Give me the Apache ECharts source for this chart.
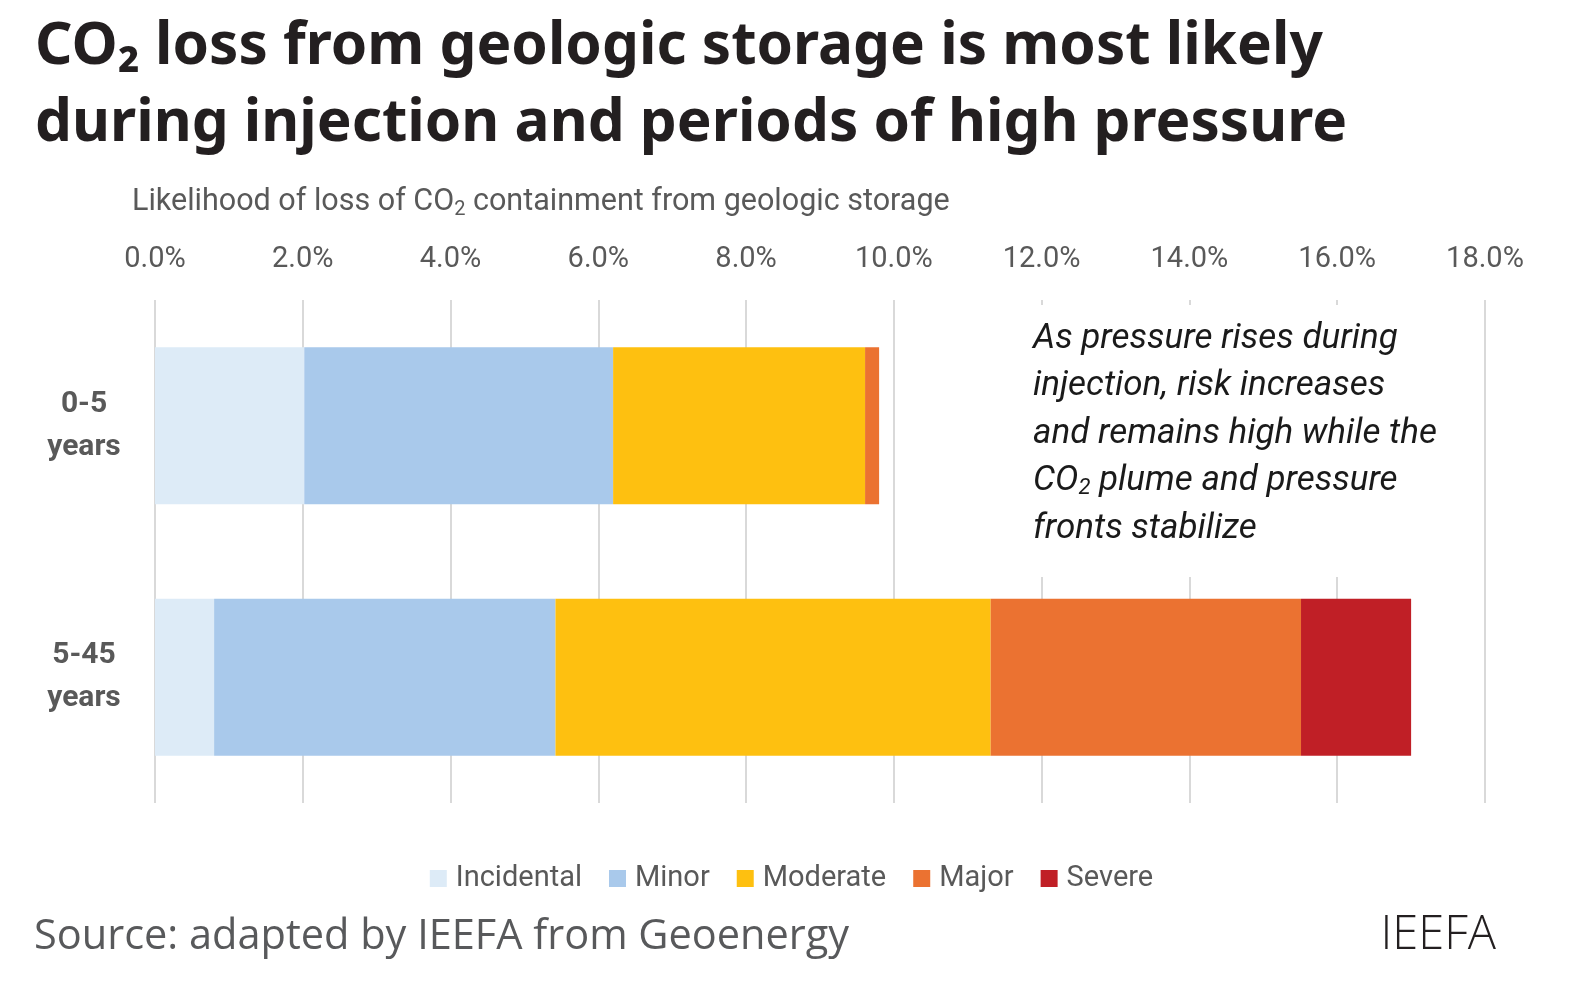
<!DOCTYPE html>
<html>
<head>
<meta charset="utf-8">
<script src="https://cdn.jsdelivr.net/npm/echarts@6/dist/echarts.min.js"></script>
<style>
  html, body { margin: 0; padding: 0; background: #fff; overflow: hidden; }
  #chart { width: 1583px; height: 993px; }
</style>
</head>
<body>
<div id="chart"></div>
<script>
const CATEGORIES = ['0-5\nyears', '5-45\nyears'];
const SERIES_NAMES = ['Incidental', 'Minor', 'Moderate', 'Major', 'Severe'];
const SERIES_COLORS = ['#ddebf7', '#a9c9eb', '#fec010', '#eb7231', '#c01f26'];

// values in percent
const INCIDENTAL = [2.02, 0.8];
const MINOR = [4.18, 4.62];
const MODERATE = [3.41, 5.89];
const MAJOR = [0.19, 4.2];
const SEVERE = [0, 1.49];
const SERIES_VALUES = [INCIDENTAL, MINOR, MODERATE, MAJOR, SEVERE];

const X_MIN = 0;
const X_MAX = 18;
const X_STEP = 2;

const CHART_FONT = 'Roboto, "Noto Sans", sans-serif';
const GREY = '#595959';

const chart = echarts.init(document.getElementById('chart'), null, { renderer: 'canvas' });

const option = {
  backgroundColor: '#fff',
  animation: false,
  title: [
    {
      text: 'CO\u2082 loss from geologic storage is most likely\nduring injection and periods of high pressure',
      left: 30,
      top: 4,
      textStyle: {
        fontFamily: '"Noto Sans", sans-serif',
        fontWeight: 'bold',
        fontSize: 58.5,
        lineHeight: 77,
        color: '#231f20'
      }
    },
    {
      text: 'Likelihood of loss of CO{sub|2} containment from geologic storage',
      left: 127,
      top: 180,
      textStyle: {
        fontFamily: CHART_FONT,
        fontWeight: 'normal',
        fontSize: 30.5,
        color: GREY,
        rich: {
          sub: { fontFamily: CHART_FONT, fontSize: 20, color: GREY, padding: [15, 0, 0, 0] }
        }
      }
    },
    {
      text: 'Source: adapted by IEEFA from Geoenergy',
      left: 29,
      top: 911,
      textStyle: {
        fontFamily: '"Open Sans", sans-serif',
        fontWeight: 'normal',
        fontSize: 41.5,
        color: '#58595b'
      }
    },
    {
      text: 'IEEFA',
      right: 82,
      top: 907,
      textStyle: {
        fontFamily: '"Open Sans", sans-serif',
        fontWeight: 300,
        fontSize: 47,
        color: '#231f20'
      }
    }
  ],
  legend: {
    bottom: 95,
    left: 'center',
    itemWidth: 17,
    itemHeight: 17,
    itemGap: 27,
    icon: 'rect',
    data: SERIES_NAMES,
    textStyle: { fontFamily: CHART_FONT, fontSize: 29, color: GREY, padding: [0, 0, 0, 4] }
  },
  grid: {
    left: 155,
    right: 98,
    top: 300,
    bottom: 190,
    containLabel: false
  },
  xAxis: {
    type: 'value',
    position: 'top',
    min: X_MIN,
    max: X_MAX,
    interval: X_STEP,
    axisLine: { show: false },
    axisTick: { show: false },
    axisLabel: {
      margin: 26,
      fontFamily: CHART_FONT,
      fontSize: 29,
      color: GREY,
      formatter: (v) => v.toFixed(1) + '%'
    },
    splitLine: { lineStyle: { color: '#d9d9d9', width: 2 } }
  },
  yAxis: {
    type: 'category',
    inverse: true,
    data: CATEGORIES,
    axisLine: { show: false },
    axisTick: { show: false },
    axisLabel: {
      margin: 71,
      align: 'center',
      fontFamily: CHART_FONT,
      fontWeight: 'bold',
      fontSize: 30,
      lineHeight: 43,
      color: GREY
    }
  },
  series: SERIES_NAMES.map((name, i) => ({
    name,
    type: 'bar',
    stack: 'total',
    barCategoryGap: '37.5%',
    itemStyle: { color: SERIES_COLORS[i] },
    emphasis: { disabled: true },
    data: SERIES_VALUES[i]
  })),
  graphic: [
    {
      type: 'rect',
      z: 50,
      shape: { x: 1012, y: 305, width: 440, height: 272 },
      style: { fill: '#fff' }
    },
    {
      type: 'text',
      z: 51,
      left: 1033,
      top: 315,
      style: {
        text: 'As pressure rises during\ninjection, risk increases\nand remains high while the\nCO{sub|2} plume and pressure\nfronts stabilize',
        fontFamily: CHART_FONT,
        fontStyle: 'italic',
        fontSize: 35,
        lineHeight: 47.5,
        fill: '#1a1a1a',
        rich: {
          sub: { fontFamily: CHART_FONT, fontStyle: 'italic', fontSize: 22, fill: '#1a1a1a', padding: [15, 0, 0, 0] }
        }
      }
    }
  ]
};

chart.setOption(option);
</script>
</body>
</html>
